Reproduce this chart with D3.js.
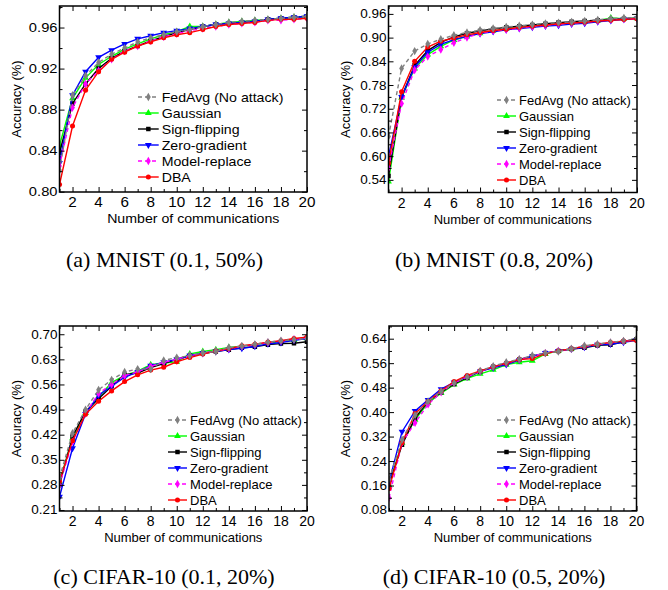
<!DOCTYPE html>
<html>
<head>
<meta charset="utf-8">
<script src="https://cdn.jsdelivr.net/npm/d3@7"></script>
<style>
  body { margin: 0; background: #fff; }
  svg { display: block; }
  .tick-label, .axis-title, .legend-label { font-family: "Liberation Sans", Arial, sans-serif; fill: #000; }
  .caption { font-family: "Liberation Serif", "Times New Roman", serif; fill: #000; }
</style>
</head>
<body>
<svg width="668" height="590"></svg>
<script>
// x values (communication rounds)
var rounds = [1, 2, 3, 4, 5, 6, 7, 8, 9, 10, 11, 12, 13, 14, 15, 16, 17, 18, 19, 20];
var xTickLabels = [2, 4, 6, 8, 10, 12, 14, 16, 18, 20];

var seriesNames = ["FedAvg (No attack)", "Gaussian", "Sign-flipping", "Zero-gradient", "Model-replace", "DBA"];

// (a) MNIST (0.1, 50%)
var aFedAvg   = [0.821, 0.894, 0.913, 0.926, 0.934, 0.940, 0.946, 0.950, 0.953, 0.956, 0.958, 0.961, 0.963, 0.965, 0.966, 0.967, 0.968, 0.969, 0.970, 0.971];
var aGaussian = [0.845, 0.891, 0.911, 0.924, 0.932, 0.939, 0.944, 0.949, 0.953, 0.956, 0.961, 0.961, 0.963, 0.965, 0.966, 0.967, 0.968, 0.969, 0.970, 0.971];
var aSign     = [0.838, 0.886, 0.905, 0.920, 0.930, 0.937, 0.942, 0.947, 0.951, 0.955, 0.958, 0.961, 0.963, 0.964, 0.965, 0.966, 0.968, 0.969, 0.970, 0.971];
var aZero     = [0.828, 0.894, 0.917, 0.931, 0.938, 0.944, 0.949, 0.952, 0.955, 0.957, 0.959, 0.961, 0.963, 0.964, 0.965, 0.966, 0.968, 0.969, 0.970, 0.971];
var aModel    = [0.825, 0.882, 0.905, 0.918, 0.929, 0.937, 0.942, 0.947, 0.951, 0.954, 0.957, 0.959, 0.961, 0.963, 0.964, 0.965, 0.967, 0.967, 0.968, 0.969];
var aDBA      = [0.807, 0.864, 0.899, 0.917, 0.929, 0.936, 0.942, 0.946, 0.950, 0.953, 0.955, 0.958, 0.961, 0.963, 0.964, 0.965, 0.967, 0.968, 0.968, 0.969];
var aTicks    = [0.80, 0.84, 0.88, 0.92, 0.96];

// (b) MNIST (0.8, 20%)
var bFedAvg   = [0.650, 0.822, 0.866, 0.884, 0.896, 0.906, 0.913, 0.919, 0.923, 0.927, 0.930, 0.933, 0.936, 0.938, 0.940, 0.942, 0.945, 0.948, 0.950, 0.951];
var bGaussian = [0.536, 0.748, 0.822, 0.857, 0.878, 0.894, 0.903, 0.911, 0.917, 0.922, 0.926, 0.929, 0.932, 0.935, 0.937, 0.940, 0.943, 0.950, 0.948, 0.949];
var bSign     = [0.550, 0.750, 0.830, 0.867, 0.888, 0.902, 0.911, 0.917, 0.922, 0.926, 0.929, 0.932, 0.935, 0.938, 0.940, 0.942, 0.944, 0.946, 0.948, 0.949];
var bZero     = [0.600, 0.750, 0.826, 0.863, 0.883, 0.895, 0.903, 0.910, 0.915, 0.920, 0.923, 0.926, 0.929, 0.931, 0.934, 0.936, 0.940, 0.943, 0.946, 0.948];
var bModel    = [0.570, 0.733, 0.818, 0.852, 0.870, 0.887, 0.900, 0.911, 0.917, 0.920, 0.924, 0.928, 0.931, 0.934, 0.937, 0.939, 0.942, 0.945, 0.947, 0.948];
var bDBA      = [0.582, 0.763, 0.840, 0.876, 0.891, 0.899, 0.907, 0.913, 0.918, 0.921, 0.926, 0.929, 0.932, 0.935, 0.937, 0.939, 0.942, 0.944, 0.946, 0.948];
var bTicks    = [0.54, 0.60, 0.66, 0.72, 0.78, 0.84, 0.90, 0.96];

// (c) CIFAR-10 (0.1, 20%)
var cFedAvg   = [0.300, 0.424, 0.490, 0.545, 0.573, 0.595, 0.603, 0.603, 0.627, 0.635, 0.640, 0.648, 0.652, 0.663, 0.667, 0.672, 0.678, 0.682, 0.685, 0.688];
var cGaussian = [0.289, 0.410, 0.480, 0.525, 0.565, 0.585, 0.597, 0.615, 0.620, 0.623, 0.645, 0.652, 0.657, 0.663, 0.667, 0.671, 0.676, 0.679, 0.684, 0.689];
var cSign     = [0.280, 0.415, 0.485, 0.520, 0.555, 0.587, 0.592, 0.607, 0.618, 0.630, 0.640, 0.647, 0.652, 0.657, 0.662, 0.665, 0.671, 0.674, 0.675, 0.679];
var cZero     = [0.247, 0.382, 0.478, 0.530, 0.555, 0.580, 0.595, 0.612, 0.622, 0.630, 0.640, 0.647, 0.652, 0.657, 0.661, 0.666, 0.673, 0.677, 0.683, 0.688];
var cModel    = [0.280, 0.400, 0.480, 0.535, 0.560, 0.585, 0.595, 0.610, 0.622, 0.630, 0.640, 0.647, 0.653, 0.660, 0.666, 0.671, 0.677, 0.681, 0.686, 0.690];
var cDBA      = [0.290, 0.403, 0.477, 0.513, 0.542, 0.568, 0.587, 0.600, 0.608, 0.623, 0.635, 0.645, 0.653, 0.660, 0.668, 0.672, 0.678, 0.682, 0.688, 0.692];
var cTicks    = [0.21, 0.28, 0.35, 0.42, 0.49, 0.56, 0.63, 0.70];

// (d) CIFAR-10 (0.5, 20%)
var dFedAvg   = [0.180, 0.310, 0.390, 0.435, 0.468, 0.495, 0.515, 0.535, 0.550, 0.563, 0.573, 0.585, 0.593, 0.598, 0.607, 0.617, 0.622, 0.628, 0.633, 0.640];
var dGaussian = [0.160, 0.300, 0.375, 0.430, 0.462, 0.490, 0.510, 0.525, 0.538, 0.555, 0.563, 0.568, 0.590, 0.600, 0.607, 0.614, 0.620, 0.626, 0.631, 0.637];
var dSign     = [0.160, 0.293, 0.380, 0.435, 0.465, 0.492, 0.513, 0.533, 0.548, 0.560, 0.572, 0.583, 0.593, 0.600, 0.606, 0.610, 0.618, 0.620, 0.630, 0.638];
var dZero     = [0.170, 0.336, 0.404, 0.440, 0.475, 0.497, 0.515, 0.533, 0.545, 0.555, 0.570, 0.582, 0.593, 0.600, 0.606, 0.612, 0.620, 0.622, 0.628, 0.635];
var dModel    = [0.120, 0.300, 0.365, 0.425, 0.465, 0.495, 0.515, 0.533, 0.548, 0.560, 0.572, 0.582, 0.593, 0.600, 0.607, 0.615, 0.621, 0.627, 0.632, 0.637];
var dDBA      = [0.150, 0.300, 0.395, 0.435, 0.470, 0.500, 0.520, 0.535, 0.548, 0.560, 0.572, 0.575, 0.591, 0.600, 0.607, 0.615, 0.622, 0.628, 0.632, 0.634];
var dTicks    = [0.08, 0.16, 0.24, 0.32, 0.40, 0.48, 0.56, 0.64];

var captions = ["(a) MNIST (0.1, 50%)", "(b) MNIST (0.8, 20%)", "(c) CIFAR-10 (0.1, 20%)", "(d) CIFAR-10 (0.5, 20%)"];

// series styles, in seriesNames order
var colors  = ["#808080", "#00ff00", "#000000", "#0000ff", "#ff00ff", "#ff0000"];
var dashes  = ["4,3", null, null, null, "4,3", null];
var symbols = [d3.symbolDiamond, d3.symbolTriangle, d3.symbolSquare, "down", d3.symbolDiamond, d3.symbolCircle];
var drawOrder = [1, 2, 3, 4, 5, 0];

var panels = [
    {values: [aFedAvg, aGaussian, aSign, aZero, aModel, aDBA], ticks: aTicks, domain: [0.7997, 0.981],
     left: 59.5, right: 307, top: 6, bottom: 192, sx: 1.09, legX: 138, legY: 97, capX: 164.5, capY: 267},
    {values: [bFedAvg, bGaussian, bSign, bZero, bModel, bDBA], ticks: bTicks, domain: [0.508, 0.980],
     left: 388.5, right: 637, top: 6, bottom: 192.5, sx: 1, legX: 497, legY: 100, capX: 494, capY: 267},
    {values: [cFedAvg, cGaussian, cSign, cZero, cModel, cDBA], ticks: cTicks, domain: [0.2072, 0.723],
     left: 59.5, right: 307, top: 326, bottom: 511, sx: 1, legX: 168, legY: 420, capX: 164, capY: 584},
    {values: [dFedAvg, dGaussian, dSign, dZero, dModel, dDBA], ticks: dTicks, domain: [0.0767, 0.6815],
     left: 389, right: 636.5, top: 326, bottom: 511, sx: 1, legX: 497, legY: 420, capX: 494, capY: 584}
];

var svg = d3.select("svg");

function symbolPath(i, size) {
    if (symbols[i] === "down") {
        return d3.symbol().type(d3.symbolTriangle).size(size)();
    }
    return d3.symbol().type(symbols[i]).size(size)();
}
function symbolRotate(i) {
    return symbols[i] === "down" ? " rotate(180)" : "";
}

// text with an optional horizontal stretch
function stretchedText(g, x, y, sx, str) {
    return g.append("text")
        .attr("transform", "translate(" + x + "," + y + ") scale(" + sx + ",1)")
        .text(str);
}

panels.forEach(function (p, pi) {
    var g = svg.append("g");

    var x = d3.scaleLinear().domain([1, 20]).range([p.left, p.right]);
    var y = d3.scaleLinear().domain(p.domain).range([p.bottom, p.top]);

    var step = p.ticks[1] - p.ticks[0];
    var minorY = p.ticks.map(function (t) { return t + step / 2; })
        .filter(function (t) { return t < p.domain[1]; });

    // clip for the series
    var clipId = "clip" + pi;
    g.append("clipPath").attr("id", clipId).append("rect")
        .attr("x", p.left).attr("y", p.top)
        .attr("width", p.right - p.left).attr("height", p.bottom - p.top);

    // series
    var line = d3.line()
        .x(function (d, i) { return x(rounds[i]); })
        .y(function (d) { return y(d); });

    var sg = g.append("g").attr("clip-path", "url(#" + clipId + ")");
    drawOrder.forEach(function (si) {
        var vals = p.values[si];
        sg.append("path")
            .datum(vals)
            .attr("d", line)
            .attr("fill", "none")
            .attr("stroke", colors[si])
            .attr("stroke-width", 1.4)
            .attr("stroke-dasharray", dashes[si]);
        sg.selectAll(null)
            .data(vals)
            .enter().append("path")
            .attr("d", symbolPath(si, 20))
            .attr("transform", function (d, i) {
                return "translate(" + x(rounds[i]) + "," + y(d) + ")" + symbolRotate(si);
            })
            .attr("fill", colors[si]);
    });

    // inward ticks on all four sides
    var oddRounds = rounds.filter(function (r) { return r % 2 === 1; });
    var bottomAxis = d3.axisBottom(x).tickValues(xTickLabels).tickSize(-5).tickFormat("");
    var bottomMinor = d3.axisBottom(x).tickValues(oddRounds).tickSize(-3).tickFormat("");
    var topAxis = d3.axisTop(x).tickValues(xTickLabels).tickSize(-5).tickFormat("");
    var topMinor = d3.axisTop(x).tickValues(oddRounds).tickSize(-3).tickFormat("");
    var leftAxis = d3.axisLeft(y).tickValues(p.ticks).tickSize(-5).tickFormat("");
    var leftMinor = d3.axisLeft(y).tickValues(minorY).tickSize(-3).tickFormat("");
    var rightAxis = d3.axisRight(y).tickValues(p.ticks).tickSize(-5).tickFormat("");
    var rightMinor = d3.axisRight(y).tickValues(minorY).tickSize(-3).tickFormat("");

    [[bottomAxis, 0, p.bottom], [bottomMinor, 0, p.bottom], [topAxis, 0, p.top], [topMinor, 0, p.top],
     [leftAxis, p.left, 0], [leftMinor, p.left, 0], [rightAxis, p.right, 0], [rightMinor, p.right, 0]]
        .forEach(function (a) {
            var ag = g.append("g")
                .attr("transform", "translate(" + a[1] + "," + a[2] + ")")
                .call(a[0]);
            ag.select(".domain").remove();
            ag.selectAll("line").attr("stroke", "#000").attr("stroke-width", 1);
        });

    // frame
    g.append("rect")
        .attr("x", p.left).attr("y", p.top)
        .attr("width", p.right - p.left).attr("height", p.bottom - p.top)
        .attr("fill", "none").attr("stroke", "#000").attr("stroke-width", 1.5);

    // tick labels
    xTickLabels.forEach(function (t) {
        stretchedText(g, x(t), p.bottom + 15, p.sx, t)
            .attr("class", "tick-label")
            .attr("text-anchor", "middle")
            .style("font-size", "14px");
    });
    p.ticks.forEach(function (t) {
        stretchedText(g, p.left - 2, y(t) + 4.5, p.sx, d3.format(".2f")(t))
            .attr("class", "tick-label")
            .attr("text-anchor", "end")
            .style("font-size", "13.5px");
    });

    // axis titles
    stretchedText(g, (p.left + p.right) / 2 + (p.sx > 1 ? 10 : 0), p.bottom + 31, p.sx, "Number of communications")
        .attr("class", "axis-title")
        .attr("text-anchor", "middle")
        .style("font-size", "13px");
    g.append("text")
        .attr("class", "axis-title")
        .attr("transform", "translate(" + (p.left - 39) + "," + ((p.top + p.bottom) / 2) + ") rotate(-90)")
        .attr("text-anchor", "middle")
        .style("font-size", "13px")
        .text("Accuracy (%)");

    // legend
    var lineLen = 19 * p.sx;
    seriesNames.forEach(function (name, si) {
        var ly = p.legY + si * 16;
        g.append("line")
            .attr("x1", p.legX).attr("x2", p.legX + lineLen)
            .attr("y1", ly).attr("y2", ly)
            .attr("stroke", colors[si])
            .attr("stroke-width", 1.4)
            .attr("stroke-dasharray", dashes[si]);
        g.append("path")
            .attr("d", symbolPath(si, 20))
            .attr("transform", "translate(" + (p.legX + lineLen / 2) + "," + ly + ")" + symbolRotate(si))
            .attr("fill", colors[si]);
        stretchedText(g, p.legX + lineLen + 3, ly + 4.5, p.sx, name)
            .attr("class", "legend-label")
            .style("font-size", "13px");
    });

    // caption
    g.append("text")
        .attr("class", "caption")
        .attr("x", p.capX).attr("y", p.capY)
        .attr("text-anchor", "middle")
        .style("font-size", "22px")
        .text(captions[pi]);
});
</script>
</body>
</html>
